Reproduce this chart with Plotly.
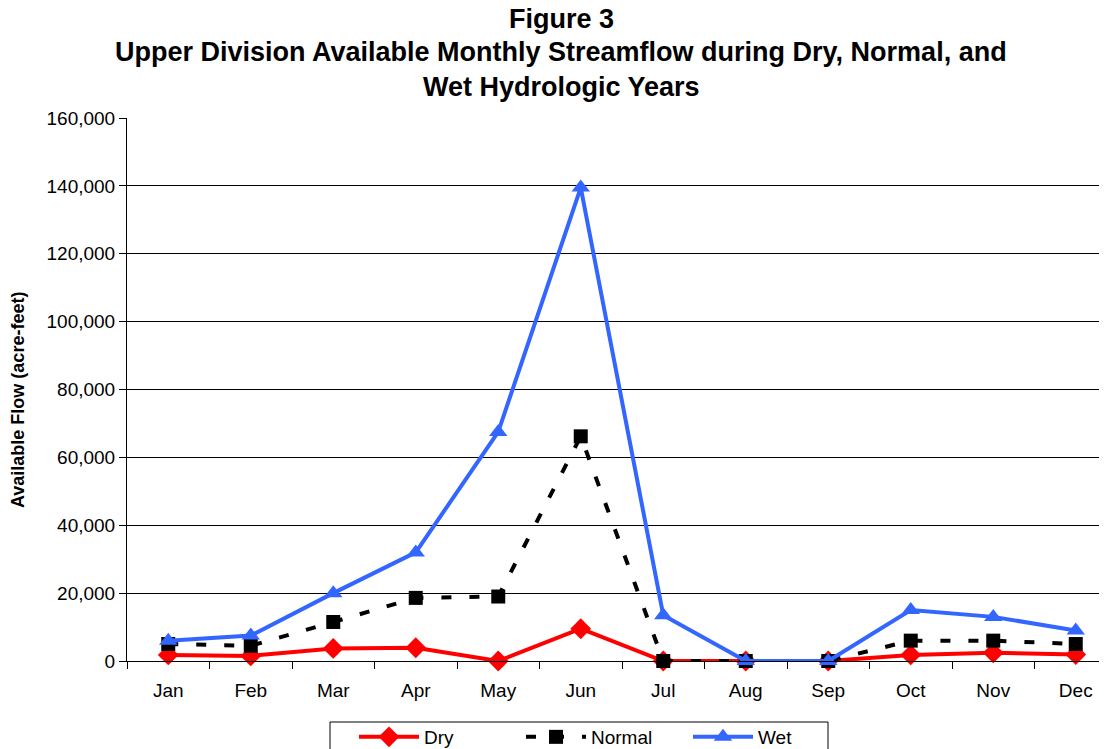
import plotly.graph_objects as go

months = ["Jan", "Feb", "Mar", "Apr", "May", "Jun", "Jul", "Aug", "Sep", "Oct", "Nov", "Dec"]
dry = [1800, 1500, 3700, 3900, 0, 9500, 0, 0, 0, 1800, 2400, 1900]
normal = [5000, 4500, 11500, 18600, 19000, 66200, 0, 0, 0, 6000, 6000, 5000]
wet = [6000, 7500, 20000, 32000, 67500, 139500, 13500, 0, 0, 15000, 13000, 9000]
y_ticks = [0, 20000, 40000, 60000, 80000, 100000, 120000, 140000, 160000]

FONT = "Arial, Liberation Sans, sans-serif"
OFF = 8  # page body margin
W, H = 1107, 749
L, T = 127 - OFF, 118 - OFF
B = H - (661 - OFF)
PW, PH = W - L, H - T - B


def px_x(x):
    return (x - OFF - L) / PW


def px_y(y):
    return (H - B - (y - OFF)) / PH


fig = go.Figure()
fig.add_trace(go.Scatter(
    x=months, y=dry, name="Dry", mode="lines+markers", cliponaxis=False,
    line=dict(color="#ff0000", width=4),
    marker=dict(symbol="diamond", size=16, color="#ff0000"),
))
fig.add_trace(go.Scatter(
    x=months, y=normal, name="Normal", mode="lines+markers", cliponaxis=False,
    line=dict(color="#000000", width=4, dash="10px,18px"),
    marker=dict(symbol="square", size=14, color="#000000"),
))
fig.add_trace(go.Scatter(
    x=months, y=wet, name="Wet", mode="lines+markers", cliponaxis=False,
    line=dict(color="#3366ff", width=4),
    marker=dict(symbol="triangle-up", size=16, color="#3366ff"),
))

title_lines = [
    "Figure 3",
    "Upper Division Available Monthly Streamflow during Dry, Normal, and",
    "Wet Hydrologic Years",
]
title_y_px = [19, 52, 87]
annotations = []
for line, ypx in zip(title_lines, title_y_px):
    annotations.append(dict(
        text="<b>%s</b>" % line, xref="paper", yref="paper",
        x=px_x(561), y=px_y(ypx),
        xanchor="center", yanchor="middle", showarrow=False,
        font=dict(family=FONT, size=27, color="#000000"),
    ))
annotations.append(dict(
    text="<b>Available Flow (acre-feet)</b>", xref="paper", yref="paper",
    x=px_x(18), y=px_y(400), textangle=-90,
    xanchor="center", yanchor="middle", showarrow=False,
    font=dict(family=FONT, size=18, color="#000000"),
))

cat_px = 82.5
x_max = -0.5 + PW / cat_px

fig.update_layout(
    width=W, height=H,
    margin=dict(l=L, r=0, t=T, b=B, autoexpand=False),
    paper_bgcolor="white", plot_bgcolor="white",
    font=dict(family=FONT, size=19, color="#000000"),
    annotations=annotations,
    shapes=[dict(
        type="rect", xref="paper", yref="paper",
        x0=px_x(330), x1=px_x(828), y0=px_y(722), y1=px_y(770),
        line=dict(color="#000000", width=1), fillcolor="rgba(0,0,0,0)",
    )],
    showlegend=True,
    legend=dict(
        orientation="h", x=px_x(354), xanchor="left",
        y=px_y(718), yanchor="top",
        borderwidth=0, bgcolor="rgba(0,0,0,0)",
        font=dict(family=FONT, size=19, color="#000000"),
        entrywidth=92, entrywidthmode="pixels",
        itemwidth=60,
    ),
    xaxis=dict(
        type="category", categoryorder="array", categoryarray=months,
        range=[-0.5, x_max],
        showline=True, linecolor="#000000", linewidth=1,
        ticks="outside", ticklen=7, tickcolor="#000000", tickson="boundaries",
        showgrid=False, zeroline=False,
        tickfont=dict(family=FONT, size=19, color="#000000"),
        ticklabelstandoff=12,
    ),
    yaxis=dict(
        range=[0, 160000], tickvals=y_ticks,
        tickformat=",d",
        showline=True, linecolor="#000000", linewidth=1,
        ticks="outside", ticklen=7, tickcolor="#000000",
        showgrid=True, gridcolor="#000000", gridwidth=1,
        zeroline=False,
        tickfont=dict(family=FONT, size=19, color="#000000"),
    ),
)

fig.write_html("out.html")
